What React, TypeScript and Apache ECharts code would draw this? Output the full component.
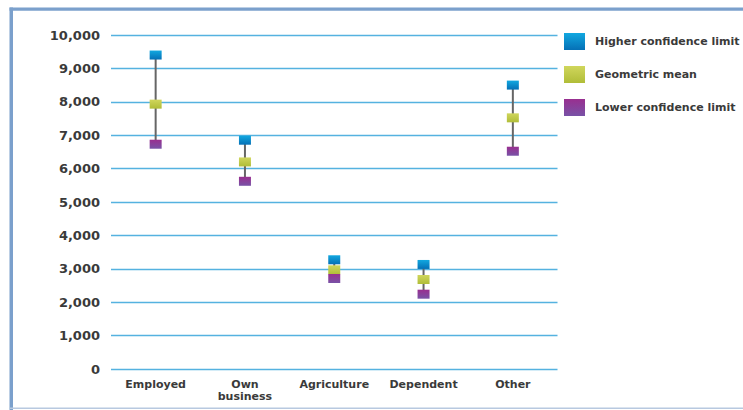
import React, { useEffect, useRef } from "react";
import * as echarts from "echarts";

// Income groups and their confidence-interval summary values
const categories = ["Employed", "Own\nbusiness", "Agriculture", "Dependent", "Other"];
const higherLimit = [9400, 6850, 3270, 3130, 8500];
const geometricMean = [7930, 6200, 2970, 2680, 7520];
const lowerLimit = [6730, 5620, 2710, 2240, 6520];

const seriesNames = ["Higher confidence limit", "Geometric mean", "Lower confidence limit"];

const FONT = "DejaVu Sans";

const grad = (top: string, bottom: string) =>
  new echarts.graphic.LinearGradient(0, 0, 0, 1, [
    { offset: 0, color: top },
    { offset: 1, color: bottom },
  ]);

export default function App() {
  const ref = useRef<HTMLDivElement>(null);

  useEffect(() => {
    if (!ref.current) return;
    const chart = echarts.init(ref.current, undefined, { renderer: "svg" });

    const markerSize: [number, number] = [12, 9];

    chart.setOption({
      animation: false,
      backgroundColor: "#ffffff",
      grid: { left: 111, right: 185.5, top: 35, bottom: 41, containLabel: false },
      legend: {
        orient: "vertical",
        left: 564,
        top: 33,
        padding: 0,
        itemWidth: 21,
        itemHeight: 17,
        itemGap: 16,
        icon: "rect",
        selectedMode: false,
        data: seriesNames,
        textStyle: {
          fontFamily: FONT,
          fontSize: 11,
          fontWeight: "bold",
          color: "#3a3a3a",
          padding: [0, 0, 0, 5],
        },
      },
      xAxis: {
        type: "category",
        data: categories,
        boundaryGap: true,
        axisLine: { show: false },
        axisTick: { show: false },
        axisLabel: {
          interval: 0,
          margin: 9,
          fontFamily: FONT,
          fontSize: 11,
          fontWeight: "bold",
          lineHeight: 12,
          color: "#3a3a3a",
        },
      },
      yAxis: {
        type: "value",
        min: 0,
        max: 10000,
        interval: 1000,
        axisLine: { show: false },
        axisTick: { show: false },
        axisLabel: {
          margin: 11,
          fontFamily: FONT,
          fontSize: 13,
          fontWeight: "bold",
          color: "#3a3a3a",
          formatter: (v: number) => v.toLocaleString("en-US"),
        },
        splitLine: { lineStyle: { color: "#55b2e0", width: 1.3 } },
      },
      graphic: [
        { type: "rect", left: 9.5, top: 7.5, shape: { width: 3.5, height: 403 }, style: { fill: "#7ba0cc" }, silent: true },
        { type: "rect", left: 9.5, top: 7.5, shape: { width: 734, height: 3.3 }, style: { fill: "#7ba0cc" }, silent: true },
        { type: "rect", left: 9.5, top: 407.5, shape: { width: 734, height: 1.5 }, style: { fill: "#b8c9e0" }, silent: true },
      ],
      series: [
        {
          type: "custom",
          name: "range",
          z: 1,
          data: categories.map((_, i) => [i, lowerLimit[i], higherLimit[i]]),
          renderItem: (_params: any, api: any) => {
            const x = api.value(0);
            const lo = api.coord([x, api.value(1)]);
            const hi = api.coord([x, api.value(2)]);
            return {
              type: "line",
              shape: { x1: lo[0], y1: lo[1], x2: hi[0], y2: hi[1] },
              style: { stroke: "#666666", lineWidth: 2 },
            };
          },
        },
        {
          type: "scatter",
          name: seriesNames[0],
          z: 3,
          symbol: "rect",
          symbolSize: markerSize,
          itemStyle: { color: grad("#12a8e0", "#0570b6"), opacity: 1 },
          data: higherLimit,
        },
        {
          type: "scatter",
          name: seriesNames[1],
          z: 3,
          symbol: "rect",
          symbolSize: markerSize,
          itemStyle: { color: grad("#d0d65c", "#b0bd38"), opacity: 1 },
          data: geometricMean,
        },
        {
          type: "scatter",
          name: seriesNames[2],
          z: 3,
          symbol: "rect",
          symbolSize: markerSize,
          itemStyle: { color: grad("#992f90", "#7852a6"), opacity: 1 },
          data: lowerLimit,
        },
      ],
    });

    return () => chart.dispose();
  }, []);

  return (
    <div
      ref={ref}
      style={{ position: "absolute", left: 0, top: 0, width: 743, height: 410 }}
    />
  );
}
